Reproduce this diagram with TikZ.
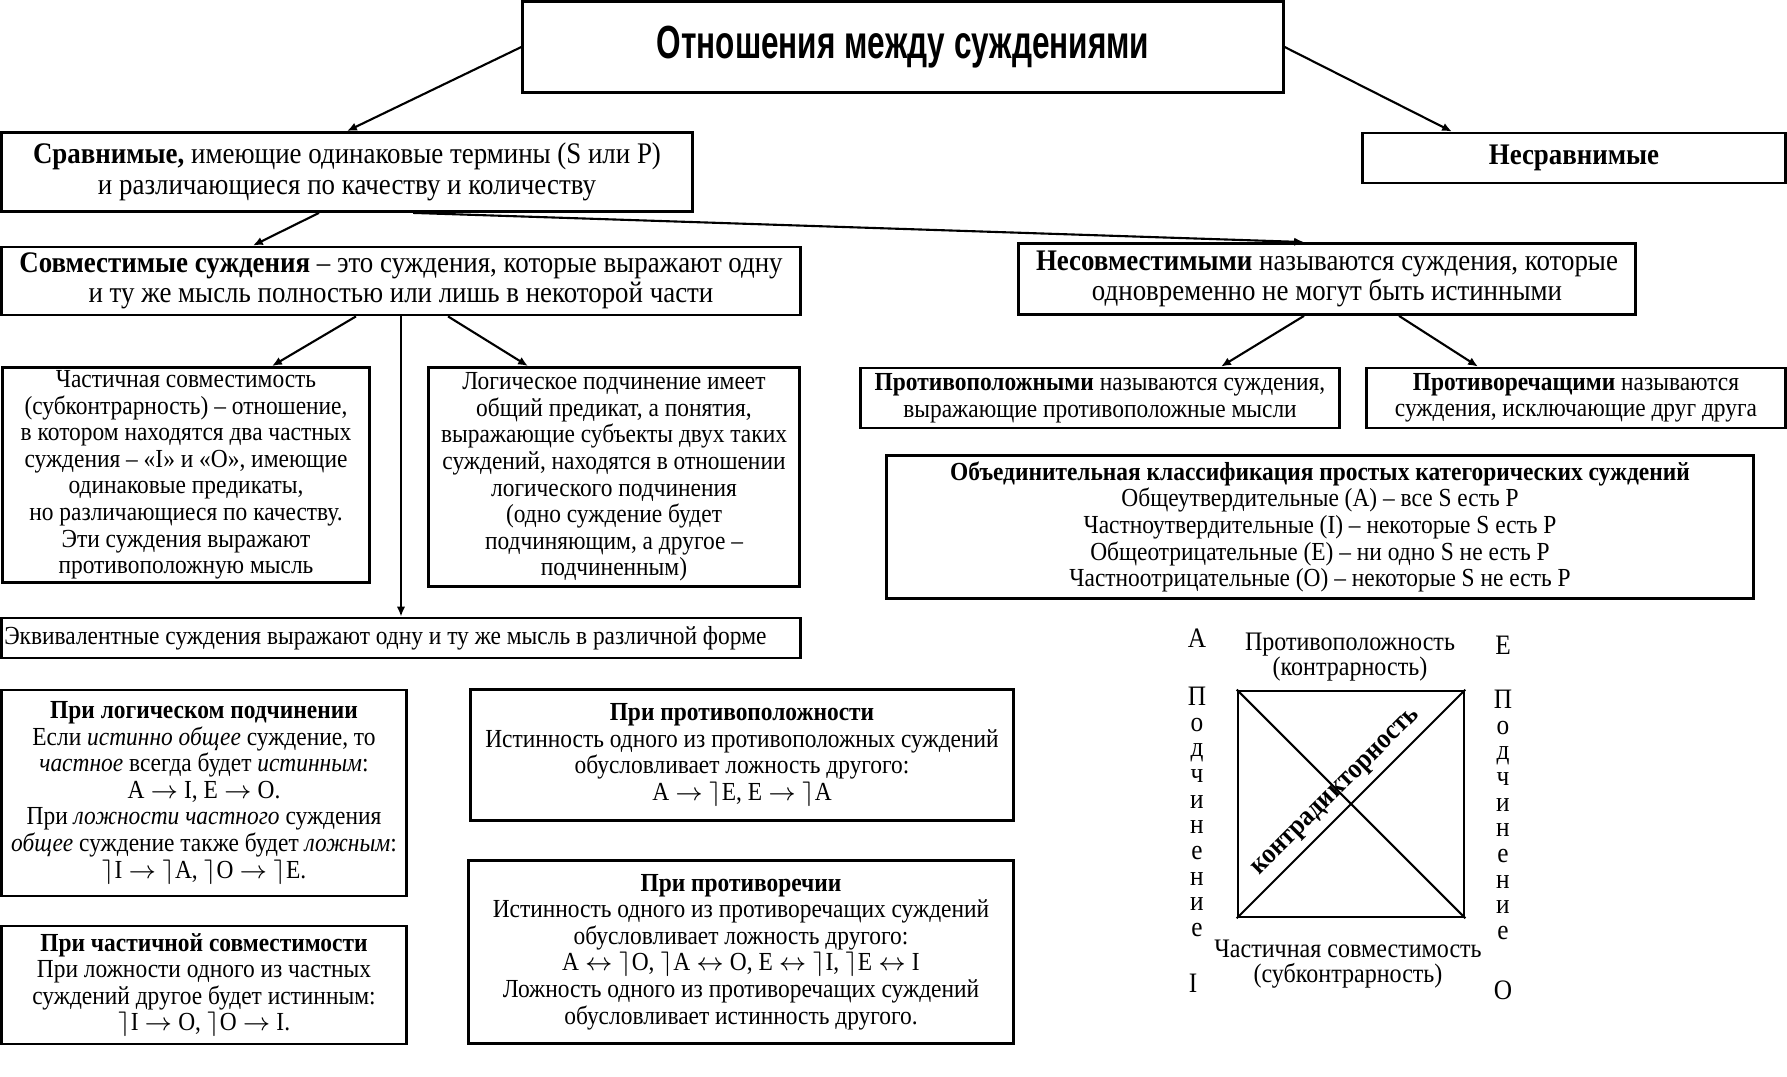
\documentclass[tikz,border=0pt]{standalone}
\usepackage{fontspec}
\setmainfont{Liberation Serif}[FakeStretch=0.9]
\newfontfamily\ttlfont[FakeStretch=0.68]{Liberation Sans}
\usetikzlibrary{arrows.meta,calc}
\newcommand{\fsbig}{\fontsize{8.5}{8.7}\selectfont}
\newcommand{\fssmall}{\fontsize{7.4}{7.55}\selectfont}
\newcommand{\fslab}{\fontsize{7.6}{7.2}\selectfont}
\newcommand{\notj}{\ensuremath{\rceil}}
\newcommand{\ra}{\ensuremath{\rightarrow}}
\newcommand{\lra}{\ensuremath{\leftrightarrow}}

\begin{document}
\begin{tikzpicture}[x=0.01cm,y=-0.01cm,
  box/.style={draw,line width=0.8pt,inner sep=0pt,align=center,font=\fssmall},
  arr/.style={-{Latex[length=2.8pt,width=2.4pt]},line width=0.6pt}]
  \useasboundingbox (0,0) rectangle (1787,1077);
  \node[box,minimum width=7.6cm,minimum height=0.91cm,font=\ttlfont\bfseries\fontsize{13.2}{15}\selectfont] (title) at (903,47) {Отношения между суждениями};
  \node[box,font=\fsbig,minimum width=6.91cm,minimum height=0.79cm] (cmp) at (347,172) {\textbf{Сравнимые,} имеющие одинаковые термины (S или P)\\и различающиеся по качеству и количеству};
  \node[box,font=\fsbig\bfseries,minimum width=4.22cm,minimum height=0.5cm] (incmp) at (1574,158) {Несравнимые};
  \node[box,font=\fsbig,minimum width=7.99cm,minimum height=0.68cm] (compat) at (401,281) {\textbf{Совместимые суждения} – это суждения, которые выражают одну\\и ту же мысль полностью или лишь в некоторой части};
  \node[box,font=\fsbig,minimum width=6.16cm,minimum height=0.71cm] (incompat) at (1327,279) {\textbf{Несовместимыми} называются суждения, которые\\одновременно не могут быть истинными};
  \node[box,minimum width=3.67cm,minimum height=2.15cm] (partial) at (186,475) {Частичная совместимость\\(субконтрарность) – отношение,\\в котором находятся два частных\\суждения – «I» и «O», имеющие\\одинаковые предикаты,\\но различающиеся по качеству.\\Эти суждения выражают\\противоположную мысль};
  \node[box,minimum width=3.71cm,minimum height=2.19cm] (logsub) at (614,477) {Логическое подчинение имеет\\общий предикат, а понятия,\\выражающие субъекты двух таких\\суждений, находятся в отношении\\логического подчинения\\(одно суждение будет\\подчиняющим, а другое –\\подчиненным)};
  \node[box,minimum width=4.78cm,minimum height=0.6cm] (contrary) at (1100,398) {\textbf{Противоположными} называются суждения,\\выражающие противоположные мысли};
  \node[box,minimum width=4.18cm,minimum height=0.6cm] (contradict) at (1576,398) {\textbf{Противоречащими} называются\\суждения, исключающие друг друга};
  \node[box,minimum width=8.66cm,minimum height=1.43cm] (classif) at (1320,527) {\textbf{Объединительная классификация простых категорических суждений}\\Общеутвердительные (A) – все S есть P\\Частноутвердительные (I) – некоторые S есть P\\Общеотрицательные (E) – ни одно S не есть P\\Частноотрицательные (O) – некоторые S не есть P};
  \node[box,minimum width=7.99cm,minimum height=0.4cm,text width=7.93cm,align=flush left] (equiv) at (401,638) {Эквивалентные суждения выражают одну и ту же мысль в различной форме};
  \node[box,minimum width=4.04cm,minimum height=2.06cm] (plogsub) at (204,793) {\textbf{При логическом подчинении}\\Если \textit{истинно общее} суждение, то\\\textit{частное} всегда будет \textit{истинным}:\\A \ra{} I, E \ra{} O.\\При \textit{ложности частного} суждения\\\textit{общее} суждение также будет \textit{ложным}:\\\notj I \ra{} \notj A, \notj O \ra{} \notj E.};
  \node[box,minimum width=5.43cm,minimum height=1.31cm] (pcontrary) at (742,755) {\textbf{При противоположности}\\Истинность одного из противоположных суждений\\обусловливает ложность другого:\\A \ra{} \notj E, E \ra{} \notj A};
  \node[box,minimum width=4.04cm,minimum height=1.18cm] (ppartial) at (204,985) {\textbf{При частичной совместимости}\\При ложности одного из частных\\суждений другое будет истинным:\\\notj I \ra{} O, \notj O \ra{} I.};
  \node[box,minimum width=5.45cm,minimum height=1.83cm] (pcontradict) at (741,952) {\textbf{При противоречии}\\Истинность одного из противоречащих суждений\\обусловливает ложность другого:\\A \lra{} \notj O, \notj A \lra{} O, E \lra{} \notj I, \notj E \lra{} I\\Ложность одного из противоречащих суждений\\обусловливает истинность другого.};
  \draw[arr] (title.west) -- (cmp.north);
  \draw[arr] (title.east) -- ([xshift=-1.22cm]incmp.north);
  \draw[arr] ([xshift=-0.28cm]cmp.south) -- ([xshift=-1.48cm]compat.north);
  \draw[arr] ([xshift=0.66cm]cmp.south) -- ([xshift=-0.23cm]incompat.north);
  \draw[arr] ([xshift=-0.45cm]compat.south) -- ([xshift=0.86cm]partial.north);
  \draw[arr] (compat.south) -- (equiv.north);
  \draw[arr] ([xshift=0.47cm]compat.south) -- ([xshift=-0.86cm]logsub.north);
  \draw[arr] ([xshift=-0.23cm]incompat.south) -- ([xshift=1.21cm]contrary.north);
  \draw[arr] ([xshift=0.72cm]incompat.south) -- ([xshift=-0.98cm]contradict.north);
  \node[draw,line width=0.7pt,minimum size=2.26cm,inner sep=0pt] (sq) at (1351,804) {};
  \draw[line width=0.6pt] (sq.north west) -- (sq.south east) (sq.south west) -- (sq.north east);
  \node[rotate=45,inner sep=0pt,font=\fontsize{8}{9}\selectfont\bfseries] (ctrd) at (1337,793) {контрадикторность};
  \node[font=\fslab,align=center,inner sep=0pt] (ctop) at (1350,657) {Противоположность\\(контрарность)};
  \node[font=\fslab,align=center,inner sep=0pt] (cbot) at (1348,964) {Частичная совместимость\\(субконтрарность)};
  \node[font=\fontsize{8}{9}\selectfont,inner sep=0pt] (lA) at (1197,638) {A};
  \node[font=\fontsize{8}{9}\selectfont,inner sep=0pt] (lE) at (1503,645) {E};
  \node[font=\fontsize{8}{9}\selectfont,inner sep=0pt] (lI) at (1193,983) {I};
  \node[font=\fontsize{8}{9}\selectfont,inner sep=0pt] (lO) at (1503,990) {O};
  \node[font=\fontsize{8}{7.3}\selectfont,align=center,inner sep=0pt] (subL) at (1197,812) {П\\о\\д\\ч\\и\\н\\е\\н\\и\\е};
  \node[font=\fontsize{8}{7.3}\selectfont,align=center,inner sep=0pt] (subR) at (1503,815) {П\\о\\д\\ч\\и\\н\\е\\н\\и\\е};
\end{tikzpicture}
\end{document}
